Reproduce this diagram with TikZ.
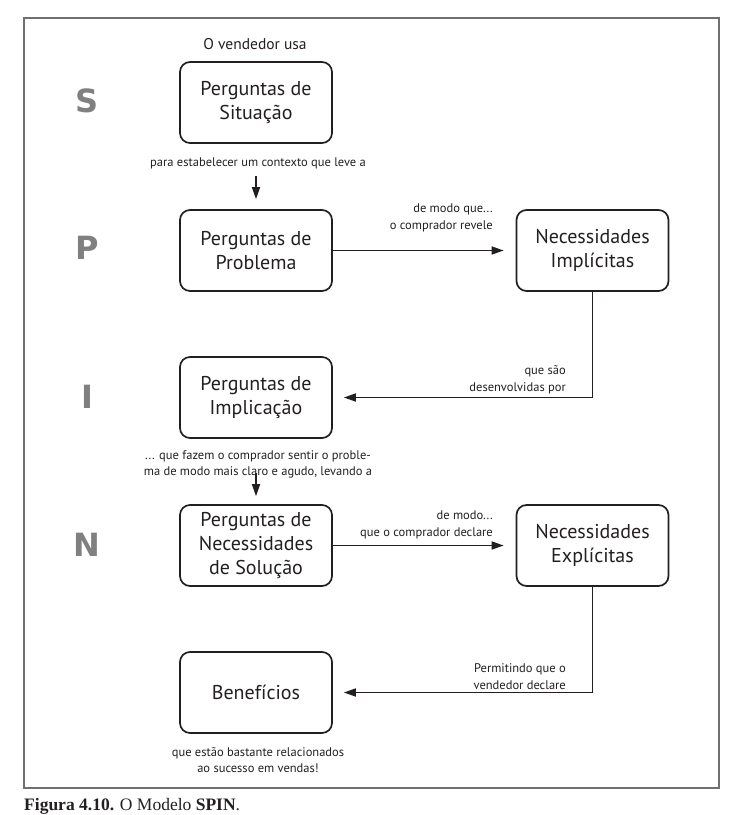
\documentclass[tikz,border=0pt]{standalone}
\usepackage{fontspec}
\setmainfont{PT Sans}
\newfontfamily\letterfont{DejaVu Sans}
\newfontfamily\capfont{Liberation Serif}
\usetikzlibrary{arrows.meta,calc}
\definecolor{ink}{HTML}{231F20}
\definecolor{lettergray}{HTML}{808080}
\definecolor{framegray}{HTML}{707070}
\begin{document}
\begin{tikzpicture}[x=1pt,y=-1pt,
  box/.style={draw=ink,line width=1.7pt,rounded corners=10pt,minimum width=152pt,minimum height=81pt,align=center,font=\fontsize{20}{24}\selectfont,text=ink,inner sep=0pt},
  lbl/.style={font=\fontsize{12.5}{16.5}\selectfont,text=ink,inner sep=0pt},
  big/.style={font=\letterfont\bfseries\fontsize{32}{32}\selectfont,text=lettergray},
  arr/.style={draw=ink,line width=1.6pt,-{Triangle[length=12pt,width=8pt]}}
]
\useasboundingbox (0,0) rectangle (743,815);
\draw[framegray,line width=1.2pt] (24,18) rectangle (719,788);

\node[big] (LS) at (87,101) {S};
\node[big] (LP) at (87,248) {P};
\node[big] (LI) at (87,397) {I};
\node[big] (LN) at (87,545) {N};

\node[font=\fontsize{15.5}{18}\selectfont,text=ink] (top) at (255,44) {O vendedor usa};

\node[box] (S) at (256,102.5) {Perguntas de\\Situação};
\node[box] (P) at (256,250.5) {Perguntas de\\Problema};
\node[box] (I) at (256,397.5) {Perguntas de\\Implicação};
\node[box] (N) at (256,545.5) {Perguntas de\\Necessidades\\de Solução};
\node[box] (B) at (256,692.5) {Benefícios};
\node[box] (Im) at (592.5,250.5) {Necessidades\\Implícitas};
\node[box] (Ex) at (592.5,545.5) {Necessidades\\Explícitas};

\node[lbl] (t1) at (258,163) {para estabelecer um contexto que leve a};
\node[lbl,align=right,anchor=east] (t2) at (493,218) {de modo que...\\o comprador revele};
\node[lbl,align=right,anchor=east] (t3) at (566,380) {que são\\desenvolvidas por};
\node[lbl,align=center] (t4) at (258,464.5) {... que fazem o comprador sentir o proble-\\ma de modo mais claro e agudo, levando a};
\node[lbl,align=right,anchor=east] (t5) at (493,525) {de modo...\\que o comprador declare};
\node[lbl,align=right,anchor=east] (t6) at (566,676.5) {Permitindo que o\\vendedor declare};
\node[lbl,align=center] (t7) at (258,760) {que estão bastante relacionados\\ao sucesso em vendas!};

\draw[arr,shorten <=32pt,shorten >=10pt] (S.south) -- (P.north);
\draw[arr,shorten >=12pt] (P.east) -- (Im.west);
\draw[arr,shorten >=11pt] (Im.south) |- (I.east);
\draw[arr,shorten <=34pt,shorten >=8pt] (I.south) -- (N.north);
\draw[arr,shorten >=12pt] (N.east) -- (Ex.west);
\draw[arr,shorten >=11pt] (Ex.south) |- (B.east);

\node[anchor=west,font=\capfont\fontsize{17.5}{20}\selectfont,text=ink,inner sep=0pt] (cap) at (24,806) {\textbf{Figura 4.10.} O Modelo \textbf{SPIN}.};
\end{tikzpicture}
\end{document}
